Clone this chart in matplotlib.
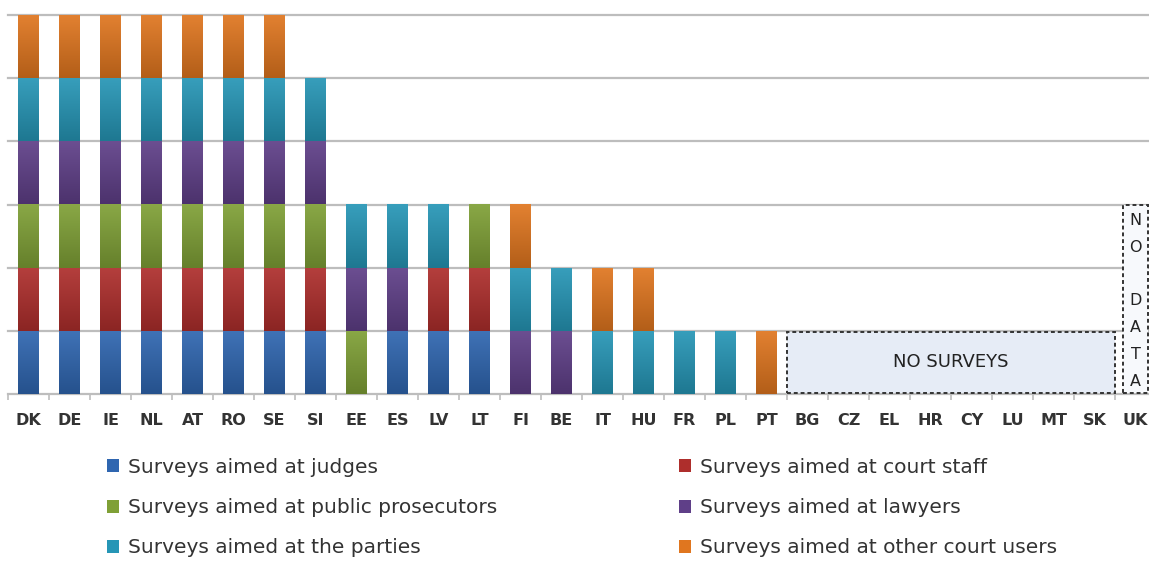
import numpy as np
import matplotlib
matplotlib.use("Agg")
import matplotlib.pyplot as plt
from matplotlib.patches import Rectangle, Patch
from matplotlib.colors import to_rgb

countries = ["DK", "DE", "IE", "NL", "AT", "RO", "SE", "SI", "EE", "ES", "LV", "LT", "FI", "BE",
             "IT", "HU", "FR", "PL", "PT", "BG", "CZ", "EL", "HR", "CY", "LU", "MT", "SK", "UK"]

judges      = [1, 1, 1, 1, 1, 1, 1, 1, 0, 1, 1, 1, 0, 0, 0, 0, 0, 0, 0, 0, 0, 0, 0, 0, 0, 0, 0, 0]
court_staff = [1, 1, 1, 1, 1, 1, 1, 1, 0, 0, 1, 1, 0, 0, 0, 0, 0, 0, 0, 0, 0, 0, 0, 0, 0, 0, 0, 0]
prosecutors = [1, 1, 1, 1, 1, 1, 1, 1, 1, 0, 0, 1, 0, 0, 0, 0, 0, 0, 0, 0, 0, 0, 0, 0, 0, 0, 0, 0]
lawyers     = [1, 1, 1, 1, 1, 1, 1, 1, 1, 1, 0, 0, 1, 1, 0, 0, 0, 0, 0, 0, 0, 0, 0, 0, 0, 0, 0, 0]
parties     = [1, 1, 1, 1, 1, 1, 1, 1, 1, 1, 1, 0, 1, 1, 1, 1, 1, 1, 0, 0, 0, 0, 0, 0, 0, 0, 0, 0]
other_users = [1, 1, 1, 1, 1, 1, 1, 0, 0, 0, 0, 0, 1, 0, 1, 1, 0, 0, 1, 0, 0, 0, 0, 0, 0, 0, 0, 0]

series_labels = ["Surveys aimed at judges", "Surveys aimed at court staff",
                 "Surveys aimed at public prosecutors", "Surveys aimed at lawyers",
                 "Surveys aimed at the parties", "Surveys aimed at other court users"]
series_values = [judges, court_staff, prosecutors, lawyers, parties, other_users]
colors = ["#2F66B0", "#AE2E2C", "#7FA036", "#5F3F88", "#2696B6", "#E0761F"]

no_survey_label = "NO SURVEYS"
no_data_label = "NO DATA"

W, H = 1149, 561
fig = plt.figure(figsize=(W / 100, H / 100), dpi=100)
ax = fig.add_axes([8 / W, 1 - 394 / H, (W - 8) / W, (394 - 15) / H])
step_px = 41.0

x = np.arange(len(countries))
bottom = np.zeros(len(countries))


def shade(c, f):
    r = np.array(to_rgb(c))
    if f >= 0:
        return r + (1 - r) * f
    return r * (1 + f)


for vals, col, lab in zip(series_values, colors, series_labels):
    v = np.array(vals, dtype=float)
    bars = ax.bar(x, v, width=0.51, bottom=bottom, color=col, label=lab, zorder=3, linewidth=0)
    for b, h in zip(bars, v):
        if h <= 0:
            continue
        grad = np.linspace(0, 1, 64)[:, None]
        top_c = shade(col, 0.08)
        bot_c = shade(col, -0.2)
        img = (top_c[None, None, :] * (1 - grad[..., None]) + bot_c[None, None, :] * grad[..., None])
        img = np.repeat(img, 2, axis=1)
        bx, by = b.get_x(), b.get_y()
        im = ax.imshow(img, extent=(bx, bx + b.get_width(), by, by + h), origin="upper",
                       aspect="auto", zorder=4, interpolation="bilinear")
        im.set_clip_path(b)
    bottom += v

# gridlines
for yv in range(1, 7):
    ax.axhline(yv, color="#BDBDBD", lw=1.6, zorder=1, clip_on=False)

# NO SURVEYS box
i0 = countries.index("BG")
i1 = countries.index("SK")
ax.add_patch(Rectangle((i0 - 0.5, 0.015), (i1 - i0) + 1.0, 0.97, facecolor="#E6ECF6",
                       edgecolor="#333333", linestyle=(0, (2, 1.5)), lw=1.4, zorder=5))
ax.text((i0 + i1) / 2, 0.5, no_survey_label, ha="center", va="center", fontsize=13,
        color="#222222", zorder=6)

# NO DATA box
iu = countries.index("UK")
ax.add_patch(Rectangle((iu - 0.3, 0.015), 0.6, 2.985, facecolor="#F7F9FC",
                       edgecolor="#333333", linestyle=(0, (2, 1.5)), lw=1.4, zorder=5, clip_on=False))
letters = list(no_data_label)
ys = np.linspace(2.75, 0.2, len(letters))
for ch, yy in zip(letters, ys):
    if ch.strip():
        ax.text(iu, yy, ch, ha="center", va="center", fontsize=11.5, color="#222222", zorder=6)

for s in ["left", "right", "top"]:
    ax.spines[s].set_visible(False)
ax.spines["bottom"].set_color("#BDBDBD")
ax.spines["bottom"].set_linewidth(1.6)
ax.set_yticks([])
ax.set_xticks(x)
ax.set_xticklabels(countries, fontsize=11.5, fontweight="bold", color="#333333")
ax.tick_params(axis="x", which="major", length=0, pad=14)
ax.set_xticks(np.arange(-0.5, len(countries) - 1, 1), minor=True)
ax.tick_params(axis="x", which="minor", length=4, color="#BDBDBD", width=1.2)

ax.set_autoscale_on(False)
ax.set_xlim(-0.5, -0.5 + (W - 8) / step_px)
ax.set_ylim(0, 6)

handles = [Patch(facecolor=c, edgecolor="none") for c in colors]
leg_kw = dict(frameon=False, fontsize=14.5, handlelength=0.62, handleheight=0.62,
              handletextpad=0.4, labelspacing=1.05, labelcolor="#333333", borderpad=0, borderaxespad=0)
fig.legend([handles[0], handles[2], handles[4]], [series_labels[0], series_labels[2], series_labels[4]],
           loc="upper left", bbox_to_anchor=(107 / W, 1 - 458 / H), **leg_kw)
fig.legend([handles[1], handles[3], handles[5]], [series_labels[1], series_labels[3], series_labels[5]],
           loc="upper left", bbox_to_anchor=(679 / W, 1 - 458 / H), **leg_kw)

fig.savefig("out.png", dpi=100)
